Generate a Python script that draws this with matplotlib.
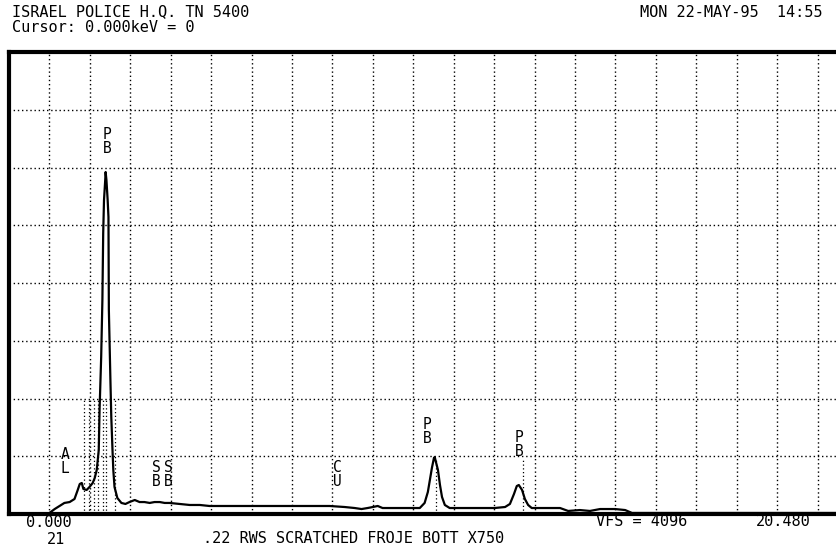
import matplotlib
matplotlib.use("Agg")
import matplotlib.pyplot as plt

# ---- data ----
energy_kev = [1.00, 1.13, 1.25, 1.37, 1.50, 1.62, 1.70, 1.75, 1.80, 1.84, 1.92, 1.99,
              2.07, 2.12, 2.17, 2.22, 2.24, 2.28, 2.31, 2.33, 2.35, 2.38, 2.39, 2.41,
              2.44, 2.46, 2.47, 2.51, 2.53, 2.56, 2.58, 2.61, 2.68, 2.78, 2.88, 2.98,
              3.11, 3.23, 3.35, 3.48, 3.60, 3.73, 3.85, 3.97, 4.22, 4.47, 4.72, 4.96,
              5.46, 6.20, 6.94, 7.93, 8.30, 8.55, 8.72, 8.87, 9.00, 9.12, 9.24, 9.54,
              9.91, 10.16, 10.28, 10.36, 10.41, 10.46, 10.51, 10.53, 10.56, 10.61, 10.66,
              10.71, 10.78, 10.90, 11.40, 12.01, 12.27, 12.39, 12.49, 12.56, 12.61, 12.69,
              12.76, 12.84, 12.93, 13.26, 13.63, 13.83, 14.12, 14.37, 14.62, 14.99, 15.24,
              15.41, 17.10, 20.46]
counts = [9, 44, 71, 98, 106, 133, 213, 266, 275, 222, 213, 239,
          275, 319, 390, 567, 922, 1392, 1897, 2491, 2784, 2961, 3032, 2961,
          2784, 2633, 1809, 1161, 860, 567, 390, 239, 142, 98, 89, 106,
          124, 106, 106, 98, 106, 106, 98, 98, 89, 80, 80, 71,
          71, 71, 71, 71, 62, 53, 44, 53, 62, 71, 53, 53,
          53, 53, 98, 195, 301, 408, 496, 505, 461, 390, 257,
          151, 80, 53, 53, 53, 62, 89, 177, 248, 257, 213,
          133, 80, 53, 53, 53, 27, 35, 27, 44, 44, 35,
          9, 9, 9]

peak_labels = ["A\nL", "P\nB", "S\nB", "S\nB", "C\nU", "P\nB", "P\nB"]
label_kev = [1.39, 2.43, 3.64, 3.94, 8.12, 10.35, 12.62]
label_counts = [337, 3174, 222, 222, 222, 603, 488]

marker_kev = [1.86, 1.98, 2.10, 2.20, 2.33, 2.41, 2.61, 10.55, 12.72]

full_scale_kev = 20.48
vfs = 4096

title_left_1 = "ISRAEL POLICE H.Q. TN 5400"
title_left_2 = "Cursor: 0.000keV = 0"
title_right = "MON 22-MAY-95  14:55"
footer = ".22 RWS SCRATCHED FROJE BOTT X750"

# ---- figure ----
fig = plt.figure(figsize=(8.36, 5.54), dpi=100)
W, H = 836, 554
ax = fig.add_axes([9 / W, (H - 514) / H, 828 / W, 462 / H])
ax.set_xlim(0, full_scale_kev)
ax.set_ylim(0, vfs)

mono = "DejaVu Sans Mono"

# grid
for k in range(1, 21):
    ax.axvline(k, color="black", lw=1.0, ls=(0, (1, 2)), zorder=1)
for c in range(512, vfs, 512):
    ax.axhline(c, color="black", lw=1.0, ls=(0, (1, 2)), zorder=1)

# element marker lines
for e in marker_kev:
    ax.axvline(e, ymax=0.25 if e < 3 else 0.12, color="black", lw=0.9, ls=(0, (1, 2)), zorder=1)

ax.plot(energy_kev, counts, color="black", lw=1.6, zorder=3)

for lab, e, c in zip(peak_labels, label_kev, label_counts):
    ax.text(e, c, lab, family=mono, fontsize=10.5, ha="center", va="bottom",
            linespacing=0.9, zorder=4)

for s in ["left", "top", "bottom"]:
    ax.spines[s].set_linewidth(3)
ax.spines["right"].set_visible(False)
ax.set_xticks([])
ax.set_yticks([])

fs = 11


def put(xc, ybase, s, ha="center"):
    fig.text(xc / W, 1 - ybase / H, s, family=mono, fontsize=fs, va="baseline", ha=ha)


put(12, 16, title_left_1, ha="left")
put(12, 32, title_left_2, ha="left")
put(823, 17, title_right, ha="right")

put(49, 527, "0.000")
put(56, 544, "21")
put(354, 543, footer)
put(642, 526, "VFS = 4096")
put(783, 526, "20.480")

fig.savefig("out.png", dpi=100, facecolor="white")
